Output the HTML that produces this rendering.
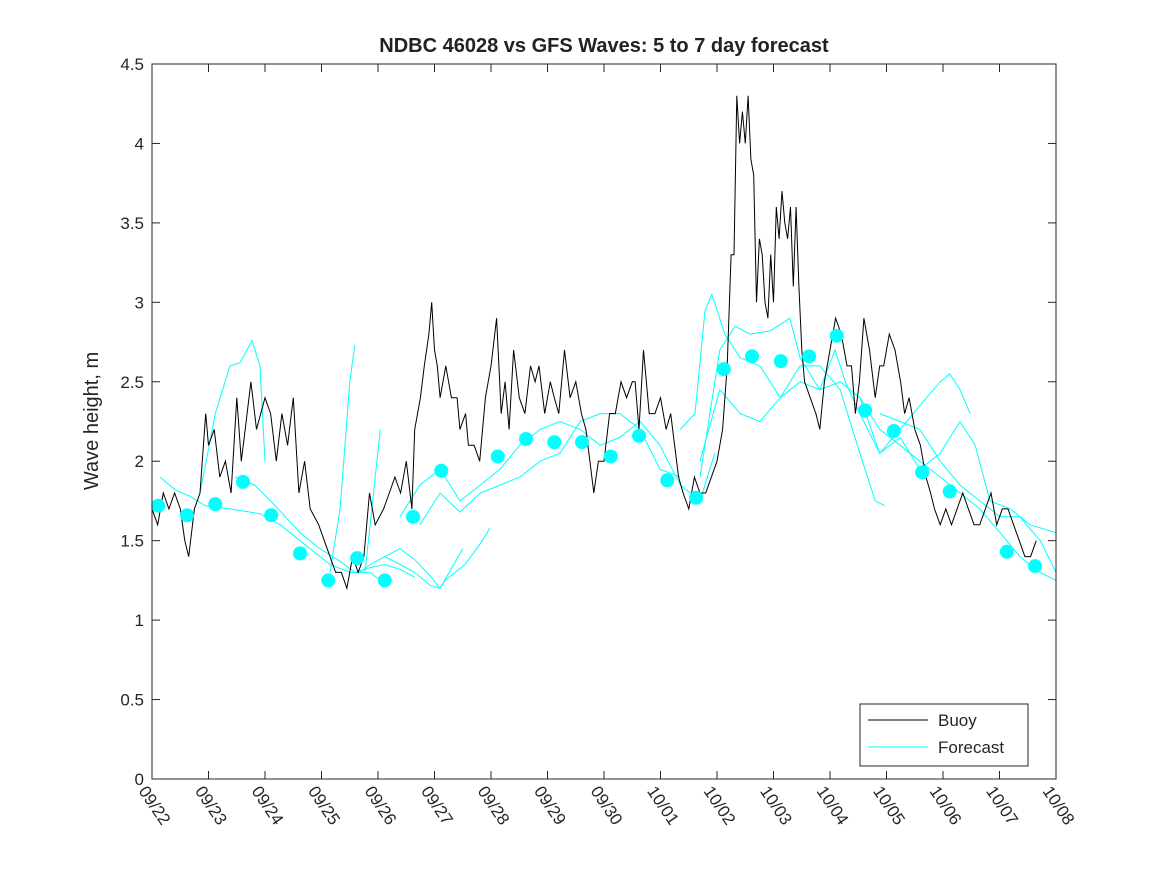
<!DOCTYPE html>
<html><head><meta charset="utf-8"><style>
html,body{margin:0;padding:0;background:#fff;}
svg{display:block;font-family:"Liberation Sans","DejaVu Sans",sans-serif;}
</style></head><body>
<svg id="chart" width="1167" height="875" viewBox="0 0 1167 875" xmlns="http://www.w3.org/2000/svg">
<rect width="1167" height="875" fill="#fff"/>
<text x="604" y="52" text-anchor="middle" font-size="20" font-weight="bold" fill="#222">NDBC 46028 vs GFS Waves: 5 to 7 day forecast</text>
<text transform="translate(98,421) rotate(-90)" text-anchor="middle" font-size="20" fill="#262626">Wave height, m</text>
<g id="grid"></g>
<g id="series"></g>
<rect x="152" y="64" width="904" height="715" fill="none" stroke="#262626" stroke-width="1"/>
<g id="axes"></g>
<g>
<rect x="860" y="704" width="168" height="62" fill="#fff" stroke="#262626" stroke-width="1"/>
<line x1="868" y1="720" x2="928" y2="720" stroke="#000" stroke-width="1"/>
<text x="938" y="726" font-size="17" fill="#262626">Buoy</text>
<line x1="868" y1="747" x2="928" y2="747" stroke="#00ffff" stroke-width="1"/>
<text x="938" y="753" font-size="17" fill="#262626">Forecast</text>
</g>
</svg>
<script>
const xTickLabels=["09/22","09/23","09/24","09/25","09/26","09/27","09/28","09/29","09/30","10/01","10/02","10/03","10/04","10/05","10/06","10/07","10/08"];
const yTicks=[0,0.5,1,1.5,2,2.5,3,3.5,4,4.5];
const yTickLabels=["0","0.5","1","1.5","2","2.5","3","3.5","4","4.5"];
const buoyDays=[0,0.1,0.2,0.3,0.4,0.5,0.58,0.65,0.75,0.85,0.95,1.0,1.1,1.2,1.3,1.4,1.5,1.58,1.65,1.75,1.85,2.0,2.1,2.2,2.3,2.4,2.5,2.6,2.7,2.8,2.95,3.05,3.15,3.25,3.35,3.45,3.55,3.65,3.75,3.85,3.95,4.1,4.2,4.3,4.4,4.5,4.6,4.65,4.75,4.82,4.9,4.95,5.0,5.05,5.1,5.2,5.3,5.4,5.45,5.55,5.6,5.7,5.8,5.9,6.0,6.1,6.18,6.25,6.32,6.4,6.5,6.6,6.7,6.78,6.85,6.95,7.05,7.12,7.2,7.3,7.4,7.5,7.6,7.68,7.75,7.82,7.9,8.0,8.1,8.2,8.3,8.4,8.5,8.55,8.62,8.7,8.8,8.9,9.0,9.1,9.18,9.25,9.32,9.4,9.5,9.6,9.7,9.8,9.9,10.0,10.1,10.18,10.25,10.3,10.35,10.4,10.45,10.5,10.55,10.6,10.65,10.7,10.75,10.8,10.85,10.9,10.95,11.0,11.05,11.1,11.15,11.2,11.25,11.3,11.35,11.4,11.45,11.5,11.55,11.65,11.75,11.82,11.9,12.0,12.1,12.2,12.3,12.38,12.45,12.52,12.6,12.7,12.8,12.88,12.95,13.05,13.15,13.25,13.32,13.4,13.5,13.6,13.7,13.78,13.85,13.95,14.05,14.15,14.25,14.35,14.45,14.55,14.65,14.75,14.85,14.95,15.05,15.15,15.25,15.35,15.45,15.55,15.65,15.75,15.85];
const buoyValues=[1.7,1.6,1.8,1.7,1.8,1.7,1.5,1.4,1.7,1.8,2.3,2.1,2.2,1.9,2.0,1.8,2.4,2.0,2.2,2.5,2.2,2.4,2.3,2.0,2.3,2.1,2.4,1.8,2.0,1.7,1.6,1.5,1.4,1.3,1.3,1.2,1.4,1.3,1.4,1.8,1.6,1.7,1.8,1.9,1.8,2.0,1.7,2.2,2.4,2.6,2.8,3.0,2.7,2.6,2.4,2.6,2.4,2.4,2.2,2.3,2.1,2.1,2.0,2.4,2.6,2.9,2.3,2.5,2.2,2.7,2.4,2.3,2.6,2.5,2.6,2.3,2.5,2.4,2.3,2.7,2.4,2.5,2.3,2.2,2.0,1.8,2.0,2.0,2.3,2.3,2.5,2.4,2.5,2.5,2.2,2.7,2.3,2.3,2.4,2.2,2.3,2.1,1.9,1.8,1.7,1.9,1.8,1.8,1.9,2.0,2.2,2.6,3.3,3.3,4.3,4.0,4.2,4.0,4.3,3.9,3.8,3.0,3.4,3.3,3.0,2.9,3.3,3.0,3.6,3.4,3.7,3.5,3.4,3.6,3.1,3.6,3.1,2.7,2.5,2.4,2.3,2.2,2.5,2.7,2.9,2.8,2.6,2.6,2.3,2.5,2.9,2.7,2.4,2.6,2.6,2.8,2.7,2.5,2.3,2.4,2.2,2.1,1.9,1.8,1.7,1.6,1.7,1.6,1.7,1.8,1.7,1.6,1.6,1.7,1.8,1.6,1.7,1.7,1.6,1.5,1.4,1.4,1.5];
const fcDays=[
[0.14,0.41,0.67,0.94,1.38,1.91,2.27,2.62,3.15,3.5,3.86,4.04],
[0.85,1.12,1.38,1.56,1.77,1.91,2.0],
[1.47,1.82,2.18,2.62,2.97,3.33,3.59,3.86,4.12,4.39,4.65],
[4.12,4.39,4.65,4.92,5.1,5.19,5.54,5.81,5.98],
[3.15,3.33,3.5,3.59],
[3.77,3.95,4.04],
[3.68,3.86,4.12,4.39,4.65,4.92,5.1,5.5],
[4.39,4.74,5.1,5.45,5.81,6.16,6.51,6.87,7.22,7.58,7.93,8.28,8.64,8.99,9.35,9.7,9.96],
[4.74,5.1,5.45,5.81,6.16,6.51,6.87,7.22,7.58,7.93,8.28,8.64,8.99,9.35],
[9.35,9.61,9.79,9.91,10.14,10.41,10.76,11.12,11.47,11.82,12.09,12.27,12.53,12.88,13.24,13.59,13.95,14.12,14.3,14.48],
[9.7,10.05,10.41,10.76,11.12,11.47,11.82,12.18,12.53,12.8,12.97],
[9.7,10.05,10.32,10.58,10.94,11.29,11.47,11.82,12.18,12.53,12.88,13.24,13.59,13.95,14.3,14.57,14.83,15.19,15.54,16.0],
[12.53,12.88,13.24,13.59,13.95,14.3,14.65,15.01,15.36,15.72,16.0],
[12.88,13.24,13.59,13.95,14.3,14.65,15.01,15.36,15.72,16.0]];
const fcValues=[
[1.9,1.82,1.78,1.72,1.7,1.67,1.6,1.5,1.35,1.3,1.3,1.25],
[1.8,2.3,2.6,2.62,2.76,2.6,2.0],
[1.9,1.85,1.72,1.55,1.45,1.37,1.3,1.33,1.35,1.32,1.27],
[1.4,1.35,1.3,1.22,1.2,1.25,1.35,1.48,1.58],
[1.3,1.7,2.5,2.73],
[1.3,1.9,2.2],
[1.3,1.35,1.4,1.45,1.38,1.28,1.2,1.45],
[1.65,1.85,1.95,1.75,1.85,1.95,2.1,2.2,2.25,2.2,2.1,2.15,2.25,2.1,1.85,1.75,2.05],
[1.6,1.8,1.68,1.8,1.85,1.9,2.0,2.05,2.25,2.3,2.3,2.2,1.95,1.9],
[2.2,2.3,2.95,3.05,2.8,2.65,2.6,2.4,2.5,2.45,2.7,2.5,2.3,2.05,2.2,2.35,2.5,2.55,2.45,2.3],
[2.0,2.45,2.3,2.25,2.4,2.6,2.6,2.45,2.05,1.75,1.72],
[1.9,2.7,2.85,2.8,2.82,2.9,2.65,2.45,2.5,2.4,2.05,2.15,1.95,2.05,2.25,2.1,1.75,1.7,1.6,1.55],
[2.4,2.2,2.1,2.0,1.9,1.8,1.7,1.55,1.4,1.3,1.25],
[2.3,2.25,2.2,2.0,1.85,1.75,1.65,1.65,1.5,1.3]];
const dotDays=[0.11,0.62,1.12,1.61,2.11,2.62,3.12,3.63,4.12,4.62,5.12,6.12,6.62,7.12,7.61,8.12,8.62,9.12,9.63,10.12,10.62,11.13,11.63,12.12,12.62,13.13,13.63,14.12,15.13,15.63];
const dotValues=[1.72,1.66,1.73,1.87,1.66,1.42,1.25,1.39,1.25,1.65,1.94,2.03,2.14,2.12,2.12,2.03,2.16,1.88,1.77,2.58,2.66,2.63,2.66,2.79,2.32,2.19,1.93,1.81,1.43,1.34];

const NS="http://www.w3.org/2000/svg";
const X0=152,X1=1056,Y0=779,Y1=64;
const xs=d=>X0+(X1-X0)*d/16;
const ys=v=>Y0-(Y0-Y1)*v/4.5;
function mk(tag,attrs,parent){const e=document.createElementNS(NS,tag);for(const k in attrs)e.setAttribute(k,attrs[k]);parent.appendChild(e);return e;}
const axes=document.getElementById('axes'),series=document.getElementById('series');
xTickLabels.forEach((t,i)=>{
  const x=xs(i);
  const tk=mk('line',{x1:x,y1:Y0,x2:x,y2:Y0-8,stroke:'#262626'},axes);
  
  
  const tk2=mk('line',{x1:x,y1:Y1,x2:x,y2:Y1+8,stroke:'#262626'},axes);
  
  
  const lb=mk('text',{x:0,y:0,'font-size':17,fill:'#262626',transform:`translate(${x-14},${Y0+12}) rotate(56)`},axes);
  lb.textContent=t;
  
  
});
yTicks.forEach((v,i)=>{
  const y=ys(v);
  const tk=mk('line',{x1:X0,y1:y,x2:X0+8,y2:y,stroke:'#262626'},axes);
  
  
  const tk2=mk('line',{x1:X1,y1:y,x2:X1-8,y2:y,stroke:'#262626'},axes);
  
  
  const lb=mk('text',{x:X0-8,y:y+6,'text-anchor':'end','font-size':17,fill:'#262626'},axes);
  lb.textContent=yTickLabels[i];
  
  
});
fcDays.forEach((ds,j)=>{
  const pts=ds.map((d,i)=>xs(d).toFixed(1)+','+ys(fcValues[j][i]).toFixed(1)).join(' ');
  const pl=mk('polyline',{points:pts,fill:'none',stroke:'#00ffff','stroke-width':1},series);
  
  
});
const bp=buoyDays.map((d,i)=>xs(d).toFixed(1)+','+ys(buoyValues[i]).toFixed(1)).join(' ');
const bl=mk('polyline',{points:bp,fill:'none',stroke:'#000','stroke-width':1},series);


dotDays.forEach((d,i)=>{
  const c=mk('circle',{cx:xs(d),cy:ys(dotValues[i]),r:7,fill:'#00ffff'},series);
  
  
});
</script>
</body></html>
